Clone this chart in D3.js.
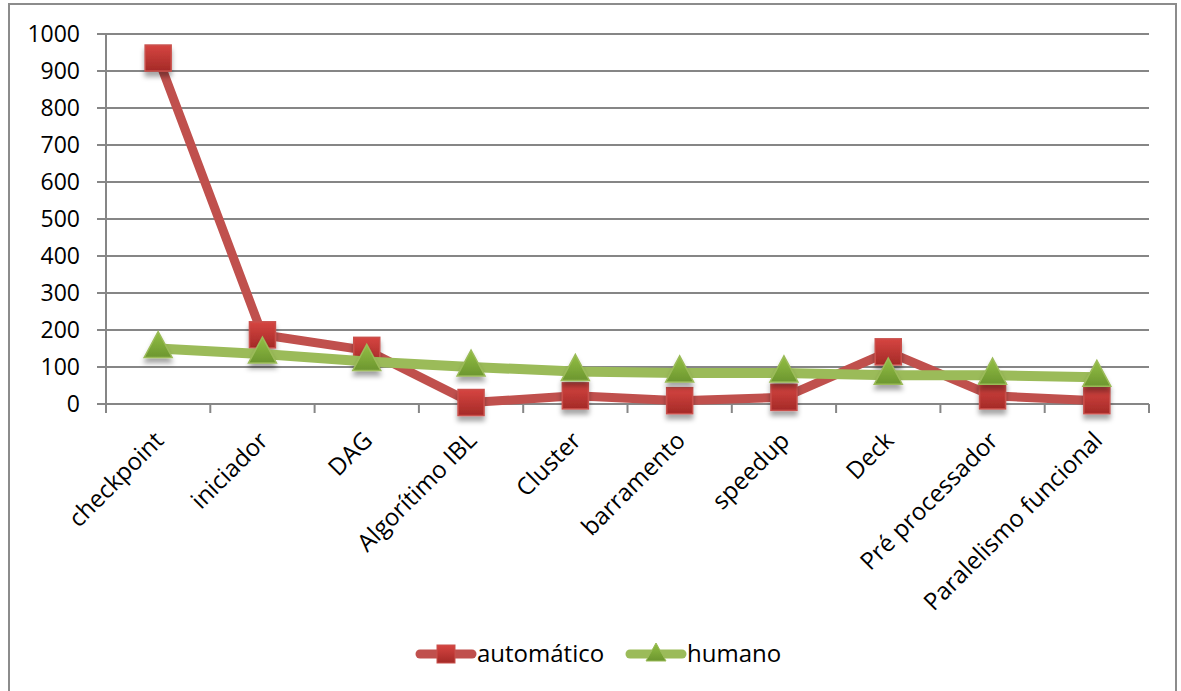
<!DOCTYPE html>
<html>
<head>
<meta charset="utf-8">
<script src="https://cdn.jsdelivr.net/npm/d3@7"></script>
<style>
  html, body { margin: 0; padding: 0; background: #fff; }
  svg { display: block; }
  text { font-family: "Open Sans", "Liberation Sans", sans-serif; fill: #000; }
</style>
</head>
<body>
<svg id="chart" width="1181" height="691"></svg>
<script>
const categories = ["checkpoint", "iniciador", "DAG", "Algorítimo IBL", "Cluster", "barramento", "speedup", "Deck", "Pré processador", "Paralelismo funcional"];
const automatico = [935, 187, 145, 4, 22, 9, 18, 141, 22, 9];
const humano = [150, 135, 115, 100, 88, 84, 84, 78, 78, 72];
const yTicks = [0, 100, 200, 300, 400, 500, 600, 700, 800, 900, 1000];
const seriesNames = ["automático", "humano"];

const W = 1181, H = 691;
const svg = d3.select("#chart");
const defs = svg.append("defs");

// gradients & shadow
const gR = defs.append("linearGradient").attr("id", "gradR").attr("x1", 0).attr("y1", 0).attr("x2", 0).attr("y2", 1);
gR.append("stop").attr("offset", "0%").attr("stop-color", "#d64541");
gR.append("stop").attr("offset", "100%").attr("stop-color", "#a42a27");
const gG = defs.append("linearGradient").attr("id", "gradG").attr("x1", 0).attr("y1", 0).attr("x2", 0).attr("y2", 1);
gG.append("stop").attr("offset", "0%").attr("stop-color", "#93bf44");
gG.append("stop").attr("offset", "100%").attr("stop-color", "#6c962f");
const sh = defs.append("filter").attr("id", "shadow").attr("x", "-50%").attr("y", "-50%").attr("width", "200%").attr("height", "200%");
sh.append("feDropShadow").attr("dx", 0).attr("dy", 5).attr("stdDeviation", 2.5).attr("flood-color", "#000").attr("flood-opacity", 0.35);

// outer border
svg.append("rect").attr("x", 9).attr("y", 4).attr("width", 1167).attr("height", 700)
  .attr("fill", "#fff").attr("stroke", "#8c8c8c").attr("stroke-width", 2);

const plotL = 106, plotR = 1149, plotT = 34, plotB = 404;
const x = d3.scaleBand().domain(categories).range([plotL, plotR]).padding(0);
const y = d3.scaleLinear().domain([0, 1000]).range([plotB, plotT]);
const cx = d => x(d) + x.bandwidth() / 2;

// gridlines + y ticks
const grid = svg.append("g");
grid.selectAll("line").data(yTicks).enter().append("line")
  .attr("x1", plotL - 9).attr("x2", plotR)
  .attr("y1", d => y(d)).attr("y2", d => y(d))
  .attr("stroke", "#868686").attr("stroke-width", 2);

// y axis line
svg.append("line").attr("x1", plotL).attr("x2", plotL).attr("y1", plotT).attr("y2", plotB)
  .attr("stroke", "#868686").attr("stroke-width", 2);

// y labels
svg.append("g").selectAll("text").data(yTicks).enter().append("text")
  .attr("x", 80).attr("y", d => y(d)).attr("dy", "0.35em")
  .attr("text-anchor", "end").attr("font-size", 23).text(d => d);

// x ticks at category boundaries
const bounds = d3.range(categories.length + 1).map(i => plotL + i * x.bandwidth());
svg.append("g").selectAll("line").data(bounds).enter().append("line")
  .attr("x1", d => d).attr("x2", d => d).attr("y1", plotB).attr("y2", plotB + 9)
  .attr("stroke", "#868686").attr("stroke-width", 2);

// x labels
svg.append("g").selectAll("text").data(categories).enter().append("text")
  .attr("text-anchor", "end").attr("font-size", 24)
  .attr("transform", d => `translate(${cx(d) + 7},${plotB + 38}) rotate(-45)`)
  .text(d => d);

const line = d3.line().x((v, i) => cx(categories[i])).y(v => y(v));

function drawSeries(vals, color, width, shape, grad) {
  svg.append("path").datum(vals).attr("d", line).attr("fill", "none")
    .attr("stroke", color).attr("stroke-width", width)
    .attr("stroke-linejoin", "round").attr("stroke-linecap", "round");
  const g = svg.append("g");
  vals.forEach((v, i) => {
    const px = cx(categories[i]), py = y(v);
    if (shape === "square") {
      g.append("rect").attr("x", px - 13).attr("y", py - 13).attr("width", 26).attr("height", 26)
        .attr("fill", `url(#${grad})`).attr("stroke", "#c9504c").attr("stroke-width", 1.5)
        .attr("filter", "url(#shadow)");
    } else {
      g.append("path").attr("d", `M${px},${py - 17} L${px + 14},${py + 9} L${px - 14},${py + 9} Z`)
        .attr("fill", `url(#${grad})`).attr("stroke", "#9bbb59").attr("stroke-width", 1.5)
        .attr("filter", "url(#shadow)");
    }
  });
}
drawSeries(automatico, "#c0504d", 9, "square", "gradR");
drawSeries(humano, "#9bbb59", 10, "triangle", "gradG");

// legend
const leg = svg.append("g");
const legY = 654;
const legItems = [
  {name: seriesNames[0], x0: 420, color: "#c0504d", shape: "square", grad: "gradR"},
  {name: seriesNames[1], x0: 630, color: "#9bbb59", shape: "triangle", grad: "gradG"}
];
legItems.forEach(it => {
  leg.append("line").attr("x1", it.x0).attr("x2", it.x0 + 52).attr("y1", legY).attr("y2", legY)
    .attr("stroke", it.color).attr("stroke-width", 9).attr("stroke-linecap", "round");
  const mx = it.x0 + 26;
  if (it.shape === "square") {
    leg.append("rect").attr("x", mx - 9).attr("y", legY - 9).attr("width", 18).attr("height", 18)
      .attr("fill", `url(#${it.grad})`).attr("stroke", "#c9504c").attr("stroke-width", 1);
  } else {
    leg.append("path").attr("d", `M${mx},${legY - 11} L${mx + 10},${legY + 7} L${mx - 10},${legY + 7} Z`)
      .attr("fill", `url(#${it.grad})`).attr("stroke", "#9bbb59").attr("stroke-width", 1);
  }
  leg.append("text").attr("x", it.x0 + 57).attr("y", legY).attr("dy", "0.35em")
    .attr("font-size", 24).text(it.name);
});
</script>
</body>
</html>
